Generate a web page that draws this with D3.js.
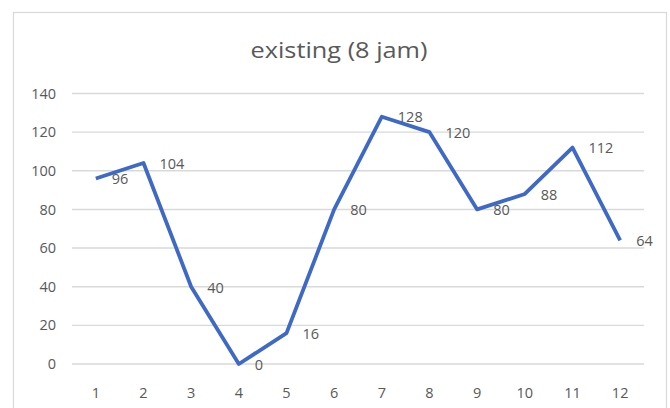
<!DOCTYPE html>
<html>
<head>
<meta charset="utf-8">
<script src="https://cdn.jsdelivr.net/npm/d3@7"></script>
<style>
  html, body { margin: 0; padding: 0; background: #fff; }
  svg { display: block; font-family: "Open Sans", "Liberation Sans", sans-serif; }
</style>
</head>
<body>
<svg id="chart" width="670" height="408"></svg>
<script>
// Hourly counts for the "existing (8 jam)" scenario
const categories = ["1", "2", "3", "4", "5", "6", "7", "8", "9", "10", "11", "12"];
const values = [96, 104, 40, 0, 16, 80, 128, 120, 80, 88, 112, 64];
const yTicks = [0, 20, 40, 60, 80, 100, 120, 140];
const title = "existing (8 jam)";

const svg = d3.select("#chart");
const frame = { left: 13, top: 12, right: 666, bottom: 420 };
const plot = { left: 72, right: 644, top: 93.5, bottom: 364 };
const textColor = "#595959";
const labelSize = 14.5;

// chart frame
svg.append("rect")
  .attr("x", frame.left + 0.5).attr("y", frame.top + 0.5)
  .attr("width", frame.right - frame.left).attr("height", frame.bottom - frame.top)
  .attr("fill", "#fff").attr("stroke", "#d9d9d9").attr("stroke-width", 1.2);

const x = d3.scaleBand().domain(categories).range([plot.left, plot.right]);
const y = d3.scaleLinear().domain([0, 140]).range([plot.bottom, plot.top]);

// horizontal gridlines
svg.append("g")
  .selectAll("line").data(yTicks).join("line")
  .attr("x1", plot.left).attr("x2", plot.right)
  .attr("y1", d => y(d)).attr("y2", d => y(d))
  .attr("stroke", "#d9d9d9").attr("stroke-width", 1.4);

// y axis labels
const yAxis = d3.axisLeft(y).tickValues(yTicks).tickSize(0).tickPadding(0);
const yg = svg.append("g").attr("transform", `translate(${plot.left - 16},0)`).call(yAxis);
yg.select(".domain").remove();
yg.selectAll("text").attr("fill", textColor).attr("font-size", labelSize)
  .attr("font-family", "'Open Sans', 'Liberation Sans', sans-serif");

// x axis labels
const xAxis = d3.axisBottom(x).tickSize(0).tickPadding(0);
const xg = svg.append("g").attr("transform", `translate(0,${plot.bottom + 24})`).call(xAxis);
xg.select(".domain").remove();
xg.selectAll("text").attr("fill", textColor).attr("font-size", labelSize)
  .attr("font-family", "'Open Sans', 'Liberation Sans', sans-serif");

// title
svg.append("text")
  .attr("x", 339).attr("y", 58)
  .attr("text-anchor", "middle")
  .attr("fill", textColor).attr("font-size", 22)
  .attr("textLength", 177).attr("lengthAdjust", "spacingAndGlyphs")
  .text(title);

// series line
const cx = i => x(categories[i]) + x.bandwidth() / 2;
const line = d3.line().x((d, i) => cx(i)).y(d => y(d));
svg.append("path")
  .datum(values)
  .attr("d", line)
  .attr("fill", "none")
  .attr("stroke", "#3f69c6")
  .attr("stroke-width", 3.8)
  .attr("stroke-linejoin", "round");

// value labels to the right of each point
svg.append("g")
  .selectAll("text").data(values).join("text")
  .attr("x", (d, i) => cx(i) + 16)
  .attr("y", d => y(d))
  .attr("dy", "0.4em")
  .attr("fill", textColor).attr("font-size", labelSize)
  .text(d => d);
</script>
</body>
</html>
